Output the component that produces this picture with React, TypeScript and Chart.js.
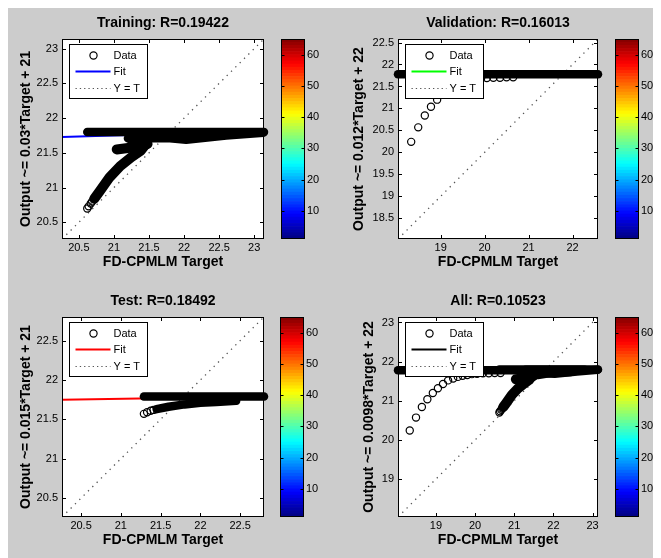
import React, { useEffect, useRef } from 'react';
import { Chart, registerables } from 'chart.js';

Chart.register(...registerables);
Chart.defaults.font.family = '"Liberation Sans", Arial, Helvetica, sans-serif';
Chart.defaults.color = '#000';

type Pt = [number, number];

// ---------------- Training ----------------
const trainTitle = 'Training: R=0.19422';
const trainYLabel = 'Output ~= 0.03*Target + 21';
const trainLimits: Pt = [20.26, 23.14];
const trainTicks = [20.5, 21, 21.5, 22, 22.5, 23];
const trainFit: Pt[] = [[20.26, 21.73], [23.14, 21.815]];
const trainBandMain: Pt[] = [[20.62, 21.8], [23.14, 21.8]];
const trainBandLower: Pt[] = [[21.2, 21.71], [21.8, 21.71], [22.03, 21.69], [22.6, 21.75], [23.13, 21.79]];
const trainArm: Pt[] = [[21.04, 21.55], [21.2, 21.57], [21.35, 21.59], [21.48, 21.63]];
const trainArmLinkA: Pt[] = [[21.24, 21.6], [21.29, 21.74]];
const trainArmLinkB: Pt[] = [[21.42, 21.61], [21.5, 21.72]];
const trainCurve: Pt[] = [[20.72, 20.84], [20.8, 20.95], [20.94, 21.15], [21.09, 21.31], [21.25, 21.44], [21.38, 21.53], [21.45, 21.62]];
const trainCircles: Pt[] = [[20.62, 20.7], [20.64, 20.73], [20.67, 20.77], [20.69, 20.8]];

// ---------------- Validation ----------------
const valTitle = 'Validation: R=0.16013';
const valYLabel = 'Output ~= 0.012*Target + 22';
const valLimits: Pt = [18.03, 22.58];
const valXTicks = [19, 20, 21, 22];
const valYTicks = [18.5, 19, 19.5, 20, 20.5, 21, 21.5, 22, 22.5];
const valFit: Pt[] = [[18.03, 21.77], [22.58, 21.82]];
const valBand: Pt[] = [[18.03, 21.78], [22.58, 21.78]];
const valCircles: Pt[] = [
  [18.33, 20.24], [18.49, 20.57], [18.64, 20.84], [18.78, 21.04], [18.92, 21.2], [19.05, 21.32],
  [19.18, 21.43], [19.31, 21.52], [19.44, 21.57], [19.56, 21.61], [19.68, 21.64], [19.8, 21.66],
  [19.92, 21.68], [20.05, 21.69], [20.2, 21.7], [20.35, 21.7], [20.5, 21.71], [20.65, 21.71],
];

// ---------------- Test ----------------
const testTitle = 'Test: R=0.18492';
const testYLabel = 'Output ~= 0.015*Target + 21';
const testLimits: Pt = [20.26, 22.8];
const testTicks = [20.5, 21, 21.5, 22, 22.5];
const testFit: Pt[] = [[20.26, 21.75], [22.8, 21.79]];
const testBand: Pt[] = [[21.29, 21.79], [22.8, 21.79]];
const testArm: Pt[] = [[21.45, 21.63], [21.6, 21.66], [21.8, 21.69], [22.0, 21.71], [22.2, 21.72], [22.45, 21.735]];
const testCircles: Pt[] = [[21.29, 21.57], [21.33, 21.59], [21.375, 21.61], [21.41, 21.62]];

// ---------------- All ----------------
const allTitle = 'All: R=0.10523';
const allYLabel = 'Output ~= 0.0098*Target + 22';
const allLimits: Pt = [18.03, 23.14];
const allTicks = [19, 20, 21, 22, 23];
const allFit: Pt[] = [[18.03, 21.76], [23.14, 21.81]];

// ---------------- shared ----------------
const xLabel = 'FD-CPMLM Target';
const legendLabels = ['Data', 'Fit', 'Y = T'];
const cbLimits: Pt = [1, 65];
const cbTicks = [10, 20, 30, 40, 50, 60];

// ---------------- styles / layout ----------------
const FONT = '"Liberation Sans", Arial, Helvetica, sans-serif';
const BAND_W = 8.5;
const RIBBON_W = 10;
const Y_AXIS_W = 54;
const X_AXIS_H = 39;
const MAIN_H = 270;
const PAD_R = 32;
const CB_W = 24;
const CB_AXIS_W = 40;

const trainBands = [
  { pts: trainBandMain, w: BAND_W },
  { pts: trainBandLower, w: BAND_W },
  { pts: trainArm, w: RIBBON_W },
  { pts: trainArmLinkA, w: BAND_W },
  { pts: trainArmLinkB, w: BAND_W },
  { pts: trainCurve, w: RIBBON_W },
];
const valBands = [{ pts: valBand, w: BAND_W }];
const testBands = [
  { pts: testBand, w: BAND_W },
  { pts: testArm, w: BAND_W },
];

const subplots = [
  {
    title: trainTitle, yLabel: trainYLabel, limits: trainLimits, xTicks: trainTicks, yTicks: trainTicks,
    fit: trainFit, fitColor: '#0000ff', bands: trainBands, circles: [trainCircles],
    left: 0, top: 0, plotW: 202, yTitlePad: 9.6, cbLeft: 273,
  },
  {
    title: valTitle, yLabel: valYLabel, limits: valLimits, xTicks: valXTicks, yTicks: valYTicks,
    fit: valFit, fitColor: '#00ff00', bands: valBands, circles: [valCircles],
    left: 336, top: 0, plotW: 200, yTitlePad: 7.1, cbLeft: 607,
  },
  {
    title: testTitle, yLabel: testYLabel, limits: testLimits, xTicks: testTicks, yTicks: testTicks,
    fit: testFit, fitColor: '#ff0000', bands: testBands, circles: [testCircles],
    left: 0, top: 278, plotW: 202, yTitlePad: 9.4, cbLeft: 272,
  },
  {
    title: allTitle, yLabel: allYLabel, limits: allLimits, xTicks: allTicks, yTicks: allTicks,
    fit: allFit, fitColor: '#000000', bands: [...trainBands, ...valBands, ...testBands],
    circles: [trainCircles, valCircles, testCircles],
    left: 336, top: 278, plotW: 200, yTitlePad: 16.6, cbLeft: 607,
  },
];

function jet(n: number): string[] {
  const out: string[] = [];
  const c = (v: number) => Math.round(255 * Math.max(0, Math.min(1, v)));
  for (let i = 0; i < n; i++) {
    const x = (i + 0.5) / n;
    const r = 1.5 - Math.abs(4 * x - 3);
    const g = 1.5 - Math.abs(4 * x - 2);
    const b = 1.5 - Math.abs(4 * x - 1);
    out.push(`rgb(${c(r)},${c(g)},${c(b)})`);
  }
  return out;
}

const toXY = (pts: Pt[]) => pts.map(([x, y]) => ({ x, y }));

const matlabPlugin = {
  id: 'matlabAxes',
  beforeDatasetsDraw(chart: any) {
    const { ctx, chartArea: a } = chart;
    ctx.save();
    ctx.fillStyle = '#ffffff';
    ctx.fillRect(a.left, a.top, a.right - a.left, a.bottom - a.top);
    ctx.restore();
  },
  afterDatasetsDraw(chart: any, _args: any, opts: any) {
    const { ctx, chartArea: a, scales } = chart;
    ctx.save();
    ctx.strokeStyle = '#000';
    ctx.lineWidth = 1;
    const L = Math.round(a.left) + 0.5, R = Math.round(a.right) - 0.5;
    const T = Math.round(a.top) + 0.5, B = Math.round(a.bottom) - 0.5;
    ctx.strokeRect(L, T, R - L, B - T);
    const tl = 3.5;
    ctx.beginPath();
    for (const t of scales.x.ticks) {
      const px = Math.round(scales.x.getPixelForValue(t.value)) + 0.5;
      ctx.moveTo(px, B); ctx.lineTo(px, B - tl);
      ctx.moveTo(px, T); ctx.lineTo(px, T + tl);
    }
    for (const t of scales.y.ticks) {
      const py = Math.round(scales.y.getPixelForValue(t.value)) + 0.5;
      ctx.moveTo(L, py); ctx.lineTo(L + tl, py);
      ctx.moveTo(R, py); ctx.lineTo(R - tl, py);
    }
    ctx.stroke();

    // legend
    const lx = Math.round(a.left + 6.5) + 0.5;
    const ly = Math.round(a.top + 4.5) + 0.5;
    const lw = 78, lh = 54;
    ctx.fillStyle = '#fff';
    ctx.fillRect(lx, ly, lw, lh);
    ctx.strokeStyle = '#000';
    ctx.lineWidth = 1;
    ctx.strokeRect(lx, ly, lw, lh);
    const rows = [ly + 11, ly + 27, ly + 44];
    // Data marker
    ctx.beginPath();
    ctx.arc(lx + 24, rows[0], 3.6, 0, Math.PI * 2);
    ctx.lineWidth = 1.2;
    ctx.strokeStyle = '#000';
    ctx.stroke();
    // Fit line
    ctx.beginPath();
    ctx.moveTo(lx + 6, rows[1]); ctx.lineTo(lx + 41, rows[1]);
    ctx.lineWidth = 2;
    ctx.strokeStyle = opts.fitColor;
    ctx.stroke();
    // Y = T
    ctx.beginPath();
    ctx.setLineDash([1.3, 3]);
    ctx.moveTo(lx + 6, rows[2]); ctx.lineTo(lx + 41, rows[2]);
    ctx.lineWidth = 1.2;
    ctx.strokeStyle = '#555';
    ctx.stroke();
    ctx.setLineDash([]);
    ctx.fillStyle = '#000';
    ctx.font = `11px ${FONT}`;
    ctx.textBaseline = 'middle';
    ctx.textAlign = 'left';
    legendLabels.forEach((lab, i) => ctx.fillText(lab, lx + 44, rows[i] + 0.5));
    ctx.restore();
  },
};

const colorbarPlugin = {
  id: 'colorbarFrame',
  afterDatasetsDraw(chart: any) {
    const { ctx, chartArea: a, scales } = chart;
    ctx.save();
    ctx.strokeStyle = '#000';
    ctx.lineWidth = 1;
    const L = Math.round(a.left) + 0.5, R = Math.round(a.right) - 0.5;
    const T = Math.round(a.top) + 0.5, B = Math.round(a.bottom) - 0.5;
    ctx.strokeRect(L, T, R - L, B - T);
    ctx.beginPath();
    for (const t of scales.y.ticks) {
      const py = Math.round(scales.y.getPixelForValue(t.value)) + 0.5;
      ctx.moveTo(L, py); ctx.lineTo(L + 3, py);
      ctx.moveTo(R, py); ctx.lineTo(R - 3, py);
    }
    ctx.stroke();
    ctx.restore();
  },
};

function mainConfig(sp: any): any {
  const circleSets = sp.circles.map((c: Pt[]) => ({
    data: toXY(c), showLine: false, pointStyle: 'circle', pointRadius: 3.6, pointBorderWidth: 1.2,
    pointBorderColor: '#000', pointBackgroundColor: 'rgba(0,0,0,0)', clip: false,
  }));
  const bandSets = sp.bands.map((b: any) => ({
    data: toXY(b.pts), showLine: true, pointRadius: 0, borderColor: '#000', borderWidth: b.w,
    borderCapStyle: 'round', borderJoinStyle: 'round', clip: false, tension: 0,
  }));
  const diag: Pt[] = [[sp.limits[0], sp.limits[0]], [sp.limits[1], sp.limits[1]]];
  return {
    type: 'scatter',
    data: {
      datasets: [
        ...circleSets,
        ...bandSets,
        { data: toXY(sp.fit), showLine: true, pointRadius: 0, borderColor: sp.fitColor, borderWidth: 2 },
        { data: toXY(diag), showLine: true, pointRadius: 0, borderColor: '#555', borderWidth: 1.3, borderDash: [1.3, 4.8] },
      ],
    },
    options: {
      animation: false,
      responsive: false,
      maintainAspectRatio: false,
      devicePixelRatio: 1,
      events: [],
      layout: { padding: { left: 0, right: PAD_R, top: 0, bottom: 0 } },
      plugins: {
        legend: { display: false },
        tooltip: { enabled: false },
        title: {
          display: true, text: sp.title, fullSize: false, color: '#000',
          font: { size: 14, weight: 'bold', family: FONT }, padding: { top: 7, bottom: 7.2 },
        },
        matlabAxes: { fitColor: sp.fitColor },
      },
      scales: {
        x: {
          type: 'linear', position: 'bottom', min: sp.limits[0], max: sp.limits[1],
          afterBuildTicks: (s: any) => { s.ticks = sp.xTicks.map((v: number) => ({ value: v })); },
          afterFit: (s: any) => { s.height = X_AXIS_H; },
          grid: { display: false, drawTicks: false },
          border: { display: false },
          ticks: { padding: 2, font: { size: 11, family: FONT }, color: '#000', autoSkip: false, maxRotation: 0, callback: (v: number) => String(v) },
          title: { display: true, text: xLabel, color: '#000', font: { size: 14, weight: 'bold', family: FONT }, padding: { top: 0, bottom: 7.1 } },
        },
        y: {
          type: 'linear', position: 'left', min: sp.limits[0], max: sp.limits[1],
          afterBuildTicks: (s: any) => { s.ticks = sp.yTicks.map((v: number) => ({ value: v })); },
          afterFit: (s: any) => { s.width = Y_AXIS_W; },
          grid: { display: false, drawTicks: false },
          border: { display: false },
          ticks: { padding: 4, font: { size: 11, family: FONT }, color: '#000', autoSkip: false, callback: (v: number) => String(v) },
          title: { display: true, text: sp.yLabel, color: '#000', font: { size: 14, weight: 'bold', family: FONT }, padding: { top: sp.yTitlePad, bottom: 0 } },
        },
      },
    },
    plugins: [matlabPlugin],
  };
}

function colorbarConfig(): any {
  const colors = jet(cbLimits[1] - cbLimits[0]);
  return {
    type: 'bar',
    data: {
      labels: [''],
      datasets: colors.map((c, i) => ({
        data: [[cbLimits[0] + i, cbLimits[0] + i + 1]],
        backgroundColor: c, borderWidth: 0, grouped: false, barPercentage: 1, categoryPercentage: 1,
      })),
    },
    options: {
      animation: false,
      responsive: false,
      maintainAspectRatio: false,
      devicePixelRatio: 1,
      events: [],
      layout: { padding: { left: 0, right: 0, top: 31, bottom: 39 } },
      plugins: { legend: { display: false }, tooltip: { enabled: false }, title: { display: false } },
      scales: {
        x: { display: false },
        y: {
          type: 'linear', position: 'right', min: cbLimits[0], max: cbLimits[1],
          afterBuildTicks: (s: any) => { s.ticks = cbTicks.map((v) => ({ value: v })); },
          afterFit: (s: any) => { s.width = CB_AXIS_W; },
          grid: { display: false, drawTicks: false },
          border: { display: false },
          ticks: { padding: 2, font: { size: 11, family: FONT }, color: '#000', autoSkip: false, callback: (v: number) => String(v) },
        },
      },
    },
    plugins: [colorbarPlugin],
  };
}

function ChartCanvas({ makeConfig, left, top, width, height }: any) {
  const ref = useRef<HTMLCanvasElement>(null);
  useEffect(() => {
    const chart = new Chart(ref.current as HTMLCanvasElement, makeConfig());
    return () => chart.destroy();
  }, []);
  return (
    <canvas
      ref={ref}
      width={width}
      height={height}
      style={{ position: 'absolute', left, top, width, height }}
    />
  );
}

export default function App() {
  useEffect(() => {
    document.documentElement.style.overflow = 'hidden';
  }, []);
  return (
    <div style={{ position: 'relative', width: 653, height: 550, background: '#cccccc', overflow: 'hidden' }}>
      {subplots.map((sp, i) => (
        <React.Fragment key={i}>
          <ChartCanvas
            makeConfig={() => mainConfig(sp)}
            left={sp.left}
            top={sp.top}
            width={Y_AXIS_W + sp.plotW + PAD_R}
            height={MAIN_H}
          />
          <ChartCanvas
            makeConfig={() => colorbarConfig()}
            left={sp.cbLeft}
            top={sp.top}
            width={CB_W + CB_AXIS_W}
            height={MAIN_H}
          />
        </React.Fragment>
      ))}
    </div>
  );
}
